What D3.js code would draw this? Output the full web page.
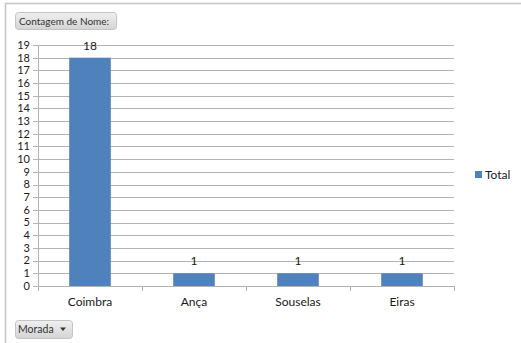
<!DOCTYPE html>
<html>
<head>
<meta charset="utf-8">
<script src="https://cdn.jsdelivr.net/npm/d3@7"></script>
<style>
  html, body { margin: 0; padding: 0; background: #fff; }
  svg { display: block; font-family: Lato, "Open Sans", sans-serif; }
</style>
</head>
<body>
<svg id="chart" width="521" height="343"></svg>
<script>
// Pivot chart: count of names per place of residence
const categories = ["Coimbra", "Ança", "Souselas", "Eiras"];
const totals = [18, 1, 1, 1];
const yTicks = d3.range(0, 20);
const seriesName = "Total";
const fieldButton = "Contagem de Nome:";
const axisButton = "Morada";

const svg = d3.select("#chart");
const W = 521, H = 343;
const plot = { left: 38, right: 454, top: 45, bottom: 286 };
const barColor = "#4f81bd";
const gridColor = "#b3b3b3";
const textColor = "#1a1a1a";

// outer chart frame (extends past the window on the right and bottom)
svg.append("rect")
  .attr("x", 5.5).attr("y", 3.5)
  .attr("width", W + 20).attr("height", H + 20)
  .attr("fill", "#fff").attr("stroke", "#c4c4c4").attr("stroke-width", 1.5);

const x = d3.scaleBand().domain(categories).range([plot.left, plot.right]).paddingInner(0.6).paddingOuter(0.3);
const xBand = d3.scaleBand().domain(categories).range([plot.left, plot.right]);
const y = d3.scaleLinear().domain([0, 19]).range([plot.bottom, plot.top]);

// horizontal gridlines with left tick stubs
svg.append("g").selectAll("line").data(yTicks).join("line")
  .attr("x1", plot.left - 5).attr("x2", plot.right)
  .attr("y1", d => Math.round(y(d)) + 0.5).attr("y2", d => Math.round(y(d)) + 0.5)
  .attr("stroke", gridColor).attr("stroke-width", 1);

// y axis line
svg.append("line")
  .attr("x1", plot.left + 0.5).attr("x2", plot.left + 0.5)
  .attr("y1", y(19)).attr("y2", plot.bottom)
  .attr("stroke", gridColor);

// y tick labels (tightly packed, as in the spreadsheet chart)
svg.append("g").selectAll("text").data(yTicks).join("text")
  .attr("x", plot.left - 8).attr("y", d => y(d))
  .attr("dy", "0.35em").attr("text-anchor", "end")
  .attr("font-size", 11).attr("fill", textColor)
  .text(d => d);

// bars
svg.append("g").selectAll("rect").data(totals).join("rect")
  .attr("x", (d, i) => x(categories[i]))
  .attr("width", x.bandwidth())
  .attr("y", d => y(d))
  .attr("height", d => plot.bottom - y(d))
  .attr("fill", barColor);

// x axis line and category boundary ticks
svg.append("line")
  .attr("x1", plot.left - 5).attr("x2", plot.right)
  .attr("y1", plot.bottom + 0.5).attr("y2", plot.bottom + 0.5)
  .attr("stroke", gridColor);
const bounds = categories.map(c => xBand(c)).concat([plot.right]);
svg.append("g").selectAll("line").data(bounds).join("line")
  .attr("x1", d => Math.round(d) + 0.5).attr("x2", d => Math.round(d) + 0.5)
  .attr("y1", plot.bottom).attr("y2", plot.bottom + 5)
  .attr("stroke", gridColor);

// category labels
svg.append("g").selectAll("text").data(categories).join("text")
  .attr("x", d => xBand(d) + xBand.bandwidth() / 2)
  .attr("y", plot.bottom + 20)
  .attr("text-anchor", "middle").attr("font-size", 12).attr("fill", textColor)
  .text(d => d);

// value labels
svg.append("g").selectAll("text").data(totals).join("text")
  .attr("x", (d, i) => x(categories[i]) + x.bandwidth() / 2)
  .attr("y", d => y(d) - 8)
  .attr("text-anchor", "middle").attr("font-size", 12).attr("fill", textColor)
  .text(d => d);

// legend
svg.append("rect").attr("x", 475).attr("y", 171).attr("width", 7).attr("height", 7).attr("fill", barColor);
svg.append("text").attr("x", 485).attr("y", 174.5).attr("dy", "0.35em")
  .attr("font-size", 12).attr("fill", textColor).text(seriesName);

// pivot field buttons
const defs = svg.append("defs");
const grad = defs.append("linearGradient").attr("id", "btn").attr("x1", 0).attr("x2", 0).attr("y1", 0).attr("y2", 1);
grad.append("stop").attr("offset", "0%").attr("stop-color", "#f0f0f0");
grad.append("stop").attr("offset", "100%").attr("stop-color", "#d4d4d4");

svg.append("rect").attr("x", 15.5).attr("y", 12.5).attr("width", 101).attr("height", 17).attr("rx", 3)
  .attr("fill", "url(#btn)").attr("stroke", "#c4c4c4");
svg.append("text").attr("x", 19).attr("y", 21).attr("dy", "0.35em")
  .attr("font-size", 10).attr("fill", "#333").text(fieldButton);

svg.append("rect").attr("x", 15.5).attr("y", 320.5).attr("width", 57).attr("height", 18).attr("rx", 3)
  .attr("fill", "url(#btn)").attr("stroke", "#c4c4c4");
svg.append("text").attr("x", 18).attr("y", 329.5).attr("dy", "0.35em")
  .attr("font-size", 10.5).attr("fill", "#333").text(axisButton);
svg.append("path").attr("d", "M60,327.5 L66,327.5 L63,331 Z").attr("fill", "#333");
</script>
</body>
</html>
